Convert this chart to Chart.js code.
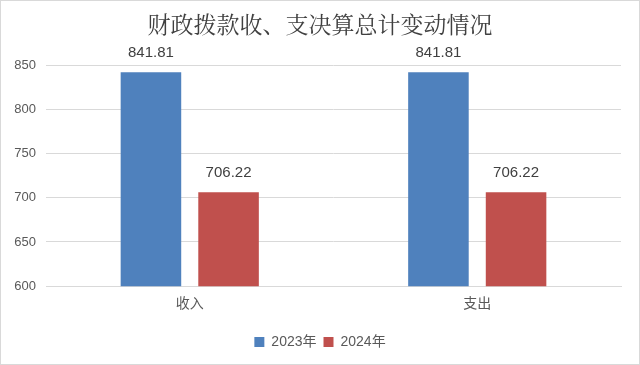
<!DOCTYPE html>
<html>
<head>
<meta charset="utf-8">
<script src="https://cdn.jsdelivr.net/npm/chart.js@4/dist/chart.umd.min.js"></script>
<style>
  html, body { margin: 0; padding: 0; background: #fff; }
  #wrap { width: 640px; height: 365px; box-sizing: border-box; border: 1px solid #d9d9d9; }
</style>
</head>
<body>
<div id="wrap"><canvas id="c"></canvas></div>
<script>
const categories = ["收入", "支出"]
const series2023 = [841.81, 841.81]
const series2024 = [706.22, 706.22]
const seriesNames = ["2023年", "2024年"]
const yTicks = [600, 650, 700, 750, 800, 850]
const titleText = "财政拨款收、支决算总计变动情况"

const textColor = "#595959"
const fontFamily = "'Liberation Sans', 'Noto Sans CJK SC', sans-serif"

// title centred on the whole canvas, and values above each bar
const extraText = {
  id: "extraText",
  afterDatasetsDraw(chart) {
    const ctx = chart.ctx
    ctx.save()
    ctx.font = "23px 'Noto Serif CJK SC', 'Noto Sans CJK SC', serif"
    ctx.fillStyle = "#404040"
    ctx.textAlign = "center"
    ctx.textBaseline = "middle"
    ctx.fillText(titleText, chart.width / 2, 23)

    ctx.font = "15px " + fontFamily
    ctx.textBaseline = "bottom"
    chart.data.datasets.forEach((ds, i) => {
      chart.getDatasetMeta(i).data.forEach((bar, j) => {
        ctx.fillText(ds.data[j].toFixed(2), bar.x, bar.y - 12)
      })
    })
    ctx.restore()
  },
}

new Chart(document.getElementById("c"), {
  type: "bar",
  data: {
    labels: categories,
    datasets: [
      { label: seriesNames[0], data: series2023, backgroundColor: "#4F81BD" },
      { label: seriesNames[1], data: series2024, backgroundColor: "#C0504D" },
    ],
  },
  options: {
    responsive: true,
    maintainAspectRatio: false,
    animation: false,
    categoryPercentage: 0.54,
    barPercentage: 0.78,
    layout: { padding: { top: 64, left: 0, right: 0, bottom: 5 } },
    plugins: {
      title: { display: false },
      legend: {
        position: "bottom",
        labels: {
          boxWidth: 10,
          boxHeight: 10,
          color: textColor,
          font: { size: 14, family: fontFamily },
          padding: 7,
        },
      },
      tooltip: { enabled: false },
    },
    scales: {
      y: {
        min: 600,
        max: 850,
        afterBuildTicks: (scale) => { scale.ticks = yTicks.map((v) => ({ value: v })) },
        afterFit: (scale) => { scale.width = 45 },
        grid: { color: "#d9d9d9", drawTicks: false },
        border: { display: false },
        ticks: { color: textColor, font: { size: 13, family: fontFamily }, padding: 10 },
      },
      // empty axis that only keeps the right margin
      yRight: {
        position: "right",
        min: 600,
        max: 850,
        afterFit: (scale) => { scale.width = 18 },
        grid: { display: false },
        border: { display: false },
        ticks: { display: false },
      },
      x: {
        grid: { display: false },
        border: { color: "#d9d9d9" },
        afterFit: (scale) => { scale.height += 13 },
        ticks: { color: textColor, font: { size: 14, family: fontFamily }, padding: 2 },
      },
    },
  },
  plugins: [extraText],
})
</script>
</body>
</html>
